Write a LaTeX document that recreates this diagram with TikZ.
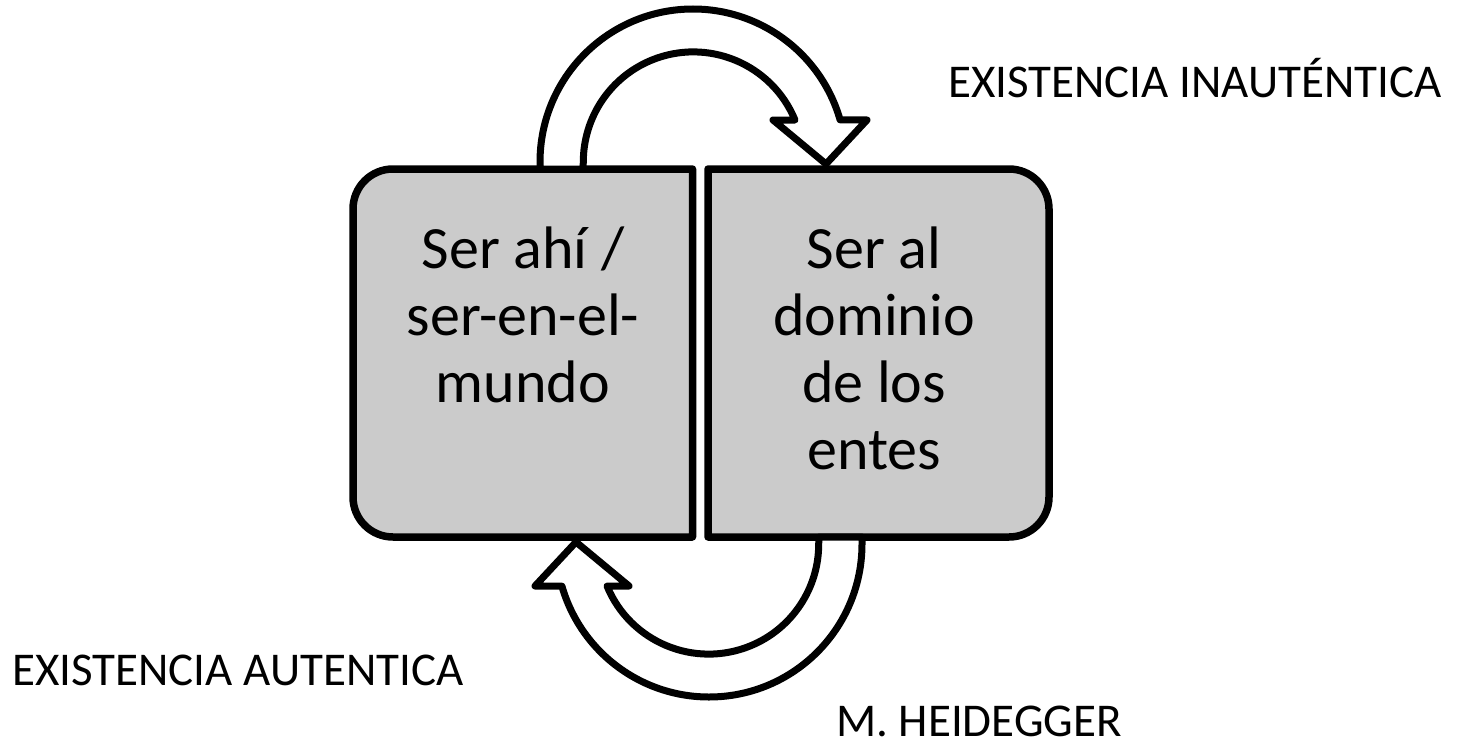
\documentclass[tikz,border=0pt]{standalone}
\usepackage{fontspec}
\setmainfont{Carlito}
\begin{document}
\begin{tikzpicture}[x=1pt,y=-1pt,
  boxshape/.style={draw=black,line width=7.5pt,fill=boxgray,line join=round},
  arrowshape/.style={draw=black,line width=7pt,fill=white,line join=round},
  boxtext/.style={anchor=base,inner sep=0pt,font=\fontsize{60}{67}\selectfont},
  label/.style={anchor=base west,inner sep=0pt,font=\fontsize{47}{56}\selectfont}]
\definecolor{boxgray}{HTML}{CBCBCB}
\useasboundingbox (0,0) rectangle (1464,752);
% boxes
\draw[boxshape] (692.5,169) -- (393,169) arc[start angle=270,end angle=180,radius=40]
  -- (353,497) arc[start angle=180,end angle=90,radius=40] -- (692.5,537) -- cycle;
\draw[boxshape] (708,169) -- (1009,169) arc[start angle=270,end angle=360,radius=40]
  -- (1049,497) arc[start angle=0,end angle=90,radius=40] -- (708,537) -- cycle;
% top curved arrow
\draw[arrowshape] (540,169) -- (540,162) arc[start angle=180,end angle=344,radius=153]
  -- (867,120) -- (826,164) -- (773,120) -- (795,120)
  arc[start angle=337.6,end angle=180,radius=110] -- (583,169) -- cycle;
% bottom curved arrow (point reflection)
\begin{scope}[rotate around={180:(701,353)}]
\draw[arrowshape] (540,169) -- (540,162) arc[start angle=180,end angle=344,radius=153]
  -- (867,120) -- (826,164) -- (773,120) -- (795,120)
  arc[start angle=337.6,end angle=180,radius=110] -- (583,169) -- cycle;
\end{scope}
% box texts
\node[boxtext] (la) at (523,268) {Ser ahí /};
\node[boxtext] (lb) at (523,335) {ser-en-el-};
\node[boxtext] (lc) at (523,402) {mundo};
\node[boxtext] (ra) at (874,268) {Ser al};
\node[boxtext] (rb) at (874,335) {dominio};
\node[boxtext] (rc) at (874,402) {de los};
\node[boxtext] (rd) at (874,469) {entes};
% labels
\node[label] (inaut) at (948,97) {EXISTENCIA INAUTÉNTICA};
\node[label] (aut) at (12,685) {EXISTENCIA AUTENTICA};
\node[label] (heid) at (836,736) {M. HEIDEGGER};
\end{tikzpicture}
\end{document}
